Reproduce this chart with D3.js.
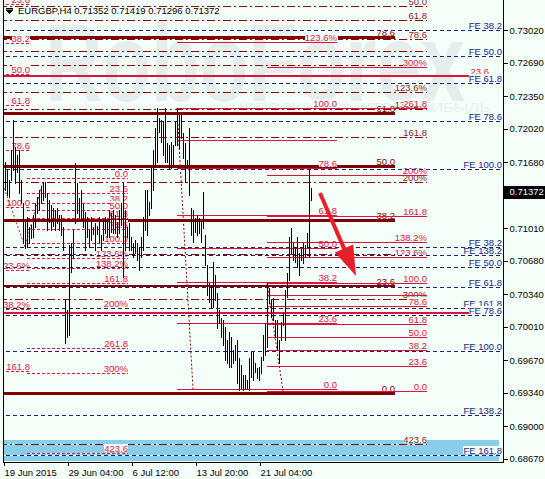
<!DOCTYPE html>
<html lang="en">
<head>
<meta charset="UTF-8">
<title>EURGBP H4</title>
<script src="https://d3js.org/d3.v7.min.js"></script>
<style>
  body { margin: 0; background: #f5fffa; }
  svg { display: block; font-family: "Liberation Sans", Arial, sans-serif; }
</style>
</head>
<body>
<svg width="545" height="479"></svg>
<script>
// ---- data ----
const symbol = "EURGBP,H4";
const lastOHLC = [0.71352, 0.71419, 0.71296, 0.71372];

// H4 bars, index 0 = first visible bar
const highs = [
  0.71699,0.71679,0.71598,0.71496,0.71801,0.72106,0.71831,0.71750,0.71801,0.71496,
  0.71262,0.71090,0.71120,0.71019,0.71039,0.71141,0.71262,0.71323,0.71395,0.71435,
  0.71476,0.71476,0.71364,0.71293,0.71242,0.71212,0.71191,0.71212,0.71141,0.71141,
  0.71019,0.70277,0.70175,0.70836,0.70856,0.70988,0.71669,0.71466,0.71313,0.71395,
  0.71262,0.71171,0.71120,0.70988,0.71120,0.71019,0.71059,0.71029,0.71120,0.70937,
  0.71090,0.71120,0.71090,0.71191,0.71161,0.71191,0.71141,0.71069,0.71191,0.71262,
  0.71466,0.71191,0.71019,0.71059,0.70917,0.70856,0.70887,0.70856,0.70816,0.70917,
  0.71120,0.71395,0.71395,0.71273,0.71618,0.71801,0.72025,0.72228,0.72126,0.72106,
  0.72086,0.72228,0.71872,0.71852,0.71882,0.71852,0.72086,0.72228,0.72157,0.72177,
  0.71974,0.71872,0.71699,0.72025,0.71212,0.71191,0.71110,0.71141,0.71110,0.71069,
  0.71374,0.70937,0.70633,0.70450,0.70429,0.70663,0.70531,0.70348,0.70175,0.70094,
  0.70074,0.70003,0.69871,0.69952,0.69901,0.69769,0.69820,0.69871,0.69688,0.69617,
  0.69515,0.69515,0.69464,0.69688,0.69749,0.69749,0.69637,0.69586,0.69596,0.69698,
  0.69921,0.70043,0.70450,0.70399,0.70277,0.70297,0.70074,0.70074,0.69871,0.70054,
  0.70145,0.70379,0.70551,0.70917,0.71008,0.70856,0.70816,0.70917,0.70755,0.70816,
  0.70856,0.70836,0.70958,0.71598,0.71419
];
const lows = [
  0.71323,0.71395,0.71344,0.71323,0.71496,0.71598,0.71466,0.71577,0.71364,0.71262,
  0.70856,0.70805,0.70816,0.70856,0.70907,0.70917,0.71019,0.71161,0.71191,0.71262,
  0.71293,0.71323,0.70988,0.71069,0.70988,0.71029,0.70988,0.71059,0.70988,0.70937,
  0.70785,0.69840,0.69901,0.69921,0.70562,0.70704,0.71059,0.71161,0.71120,0.71090,
  0.71019,0.70785,0.70917,0.70816,0.70887,0.70948,0.70785,0.70948,0.70856,0.70785,
  0.70887,0.70958,0.70917,0.70917,0.70968,0.70958,0.70958,0.70917,0.70958,0.71039,
  0.70511,0.70785,0.70917,0.70785,0.70785,0.70714,0.70755,0.70683,0.70582,0.70714,
  0.70785,0.70988,0.70937,0.71141,0.71212,0.71395,0.71628,0.71679,0.71984,0.71882,
  0.71750,0.71679,0.71679,0.71618,0.71618,0.71649,0.71852,0.71852,0.71821,0.71923,
  0.71720,0.71476,0.71618,0.71344,0.70937,0.70866,0.70968,0.70937,0.70958,0.70866,
  0.71008,0.70633,0.70328,0.70257,0.70206,0.70206,0.70277,0.69993,0.70043,0.69901,
  0.69820,0.69667,0.69637,0.69596,0.69596,0.69637,0.69667,0.69434,0.69363,0.69383,
  0.69363,0.69383,0.69383,0.69363,0.69495,0.69464,0.69546,0.69485,0.69464,0.69535,
  0.69667,0.69718,0.69800,0.70247,0.70104,0.70074,0.69901,0.69769,0.69637,0.69871,
  0.70023,0.69871,0.70308,0.70480,0.70755,0.70683,0.70663,0.70612,0.70531,0.70683,
  0.70653,0.70714,0.70816,0.70714,0.71296
];

const timeTicks = [0, 32, 64, 96, 128];
const timeLabels = ["19 Jun 2015", "29 Jun 04:00", "6 Jul 12:00", "13 Jul 20:00", "21 Jul 04:00"];
const priceTicks = [0.73020, 0.72690, 0.72350, 0.72020, 0.71680, 0.71010, 0.70680,
                    0.70340, 0.70010, 0.69670, 0.69340, 0.69000, 0.68670];

// fibonacci objects on the chart: anchor prices (0% and 100%) and bar span
const fibMaroon = { p0: 0.69335, p100: 0.73934, from: -2, to: 196,
  levels: [0, 23.6, 38.2, 50, 61.8, 78.6],
  labels: ["0.0", "23.6", "38.2", "50.0", "61.8", "78.6"] };
const fibDashDot = { p0: 0.73860, p100: 0.72669, from: -2, to: 212,
  levels: [50, 61.8, 78.6, 88.6, 100, 123.6, 138.2, 161.8, 200, 261.8, 300, 423.6],
  labels: ["50.0", "61.8", "78.6", "", "100.0", "123.6%", "138.2%", "161.8", "200%", "261.8", "300%", "423.6"] };
const fibWide = { p0: 0.70147, p100: 0.80342, from: -2, to: 243,
  levels: [0, 23.6], labels: ["0.0", "23.6"] };
const fibLeftDash = { p0: 0.71518, p100: 0.70858, from: 12, to: 62.5,
  levels: [0, 23.6, 38.2, 50, 61.8, 78.6, 100, 123.6, 138.2, 161.8, 200, 261.8, 300, 423.6],
  labels: ["0.0", "23.6", "38.2", "50.0", "61.8", "78.6", "100.0", "123.6%", "138.2%", "161.8", "200%", "261.8", "300%", "423.6"] };
const fibEdge = { p0: 0.73924, p100: 0.71223, from: -1, to: 13.5,
  levels: [23.6, 38.2, 50, 61.8, 78.6, 100, 123.6, 138.2, 161.8, 200],
  labels: ["23.6", "38.2", "50.0", "61.8", "78.6", "100.0", "123.6%", "138.2%", "161.8", "200%"] };
const fibRetr1 = { p0: 0.69376, p100: 0.72228, from: 87, to: 167,
  levels: [0, 23.6, 38.2, 50, 61.8, 78.6, 88.6, 100, 123.6],
  labels: ["0.0", "23.6", "38.2", "50.0", "61.8", "78.6", "", "100.0", "123.6%"] };
const fibRetr2 = { p0: 0.69355, p100: 0.70452, from: 132, to: 212,
  levels: [0, 23.6, 38.2, 50, 61.8, 78.6, 88.6, 100, 123.6, 138.2, 161.8, 200, 261.8, 300],
  labels: ["0.0", "23.6", "38.2", "50.0", "61.8", "78.6", "", "100.0", "123.6%", "138.2%", "161.8", "200%", "261.8", "300%"] };
const feUpper = { p0: 0.73893, p100: 0.71609, from: -2, to: 249.5,
  levels: [38.2, 50, 61.8, 78.6, 100, 138.2, 161.8],
  labels: ["FE 38.2", "FE 50.0", "FE 61.8", "FE 78.6", "FE 100.0", "FE 138.2", "FE 161.8"] };
const feLower = { p0: 0.71470, p100: 0.69761, from: -2, to: 249.5,
  levels: [38.2, 50, 61.8, 78.6, 100, 138.2, 161.8],
  labels: ["FE 38.2", "FE 50.0", "FE 61.8", "FE 78.6", "FE 100.0", "FE 138.2", "FE 161.8"] };

const trendRetr1 = [[87, 0.72228], [95, 0.69376]];
const trendRetr2 = [[132, 0.70452], [140, 0.69355]];
const trendLeft = [[0, 0.71450], [11, 0.70817], [20, 0.71477]];

const zone = { from: -2, to: 248, top: 0.68855, bottom: 0.68641 };
const arrowFrom = [158.5, 0.71365];
const arrowTo = [176.5, 0.70523];

// ---- drawing ----
const bg = "#f5fffa";
const svg = d3.select("svg");
svg.append("rect").attr("width", 545).attr("height", 479).attr("fill", bg);

svg.append("defs").append("clipPath").attr("id", "plotClip")
   .append("rect").attr("x", 3).attr("y", 0).attr("width", 500).attr("height", 462);

const x = d3.scaleLinear().domain([0, 250]).range([3, 503]);
const y = d3.scaleLinear().domain([0.68670, 0.73020]).range([458.5, 30]);

const plot = svg.append("g").attr("clip-path", "url(#plotClip)");

// watermark
plot.append("text")
    .attr("x", 45).attr("y", 101)
    .attr("font-size", 112).attr("font-weight", "bold")
    .attr("fill", "#e5eeed")
    .attr("textLength", 420).attr("lengthAdjust", "spacingAndGlyphs")
    .text("RoboForex");
plot.append("text")
    .attr("x", 232).attr("y", 112)
    .attr("font-size", 13).attr("fill", "#e8f1ef")
    .attr("textLength", 258).attr("lengthAdjust", "spacingAndGlyphs")
    .text("ИСПОЛЬЗУЙ ФАКТОР ПРИБЫЛЬ");

// rectangle zone
plot.append("rect")
    .attr("x", x(zone.from)).attr("width", x(zone.to) - x(zone.from))
    .attr("y", Math.round(y(zone.top)))
    .attr("height", Math.round(y(zone.bottom)) - Math.round(y(zone.top)))
    .attr("fill", "#87ceeb");

const snap = (v, w) => Math.round(v) + (Math.round(w) % 2 ? 0.5 : 0);

function drawFib(t, st) {
  const g = plot.append("g").attr("shape-rendering", "crispEdges");
  const x0 = x(t.from), x1 = x(t.to);
  const levelY = lv => y(t.p0 + (t.p100 - t.p0) * lv / 100);
  t.levels.forEach(lv => {
    const yy = snap(levelY(lv), st.width);
    if (st.dash) {
      g.append("line").attr("x1", x0).attr("x2", x1).attr("y1", yy).attr("y2", yy)
       .attr("stroke", bg).attr("stroke-width", st.width);
    }
    g.append("line").attr("x1", x0).attr("x2", x1).attr("y1", yy).attr("y2", yy)
     .attr("stroke", st.color).attr("stroke-width", st.width)
     .attr("stroke-dasharray", st.dash);
  });
  t.levels.forEach((lv, k) => {
    const txt = t.labels[k];
    if (!txt) return;
    const base = Math.round(levelY(lv)) - 1;
    const tx = g.append("text")
      .attr("x", x1).attr("y", base)
      .attr("text-anchor", "end")
      .attr("font-size", 9.5)
      .attr("fill", st.text)
      .text(txt);
    const bb = tx.node().getBBox();
    g.insert("rect", () => tx.node())
     .attr("x", bb.x).attr("y", bb.y + 1)
     .attr("width", bb.width).attr("height", Math.max(0, base - bb.y - 1.5))
     .attr("fill", bg);
  });
}

function drawTrend(pts, color) {
  plot.append("path")
      .datum(pts)
      .attr("d", d3.line().x(d => x(d[0])).y(d => y(d[1])))
      .attr("fill", "none")
      .attr("stroke", color)
      .attr("stroke-width", 1)
      .attr("stroke-dasharray", "2,2");
}

drawFib(fibMaroon,   { color: "#800000", width: 3, dash: null, text: "#800000" });
drawFib(fibDashDot,  { color: "#8b0000", width: 1, dash: "8,3,2,3", text: "#8b1a1a" });
drawFib(fibWide,     { color: "#dc143c", width: 2, dash: null, text: "#dc143c" });
drawFib(fibLeftDash, { color: "#dc143c", width: 1, dash: "3,2", text: "#dc143c" });
drawFib(fibEdge,     { color: "#dc143c", width: 1, dash: "3,2", text: "#dc143c" });
drawTrend(trendLeft, "#b22234");
drawFib(fibRetr1,    { color: "#dc143c", width: 1, dash: null, text: "#dc143c" });
drawTrend(trendRetr1, "#8b0000");
drawFib(fibRetr2,    { color: "#dc143c", width: 1, dash: null, text: "#dc143c" });
drawTrend(trendRetr2, "#8b0000");
drawFib(feUpper,     { color: "#1c1c80", width: 1, dash: "4,3", text: "#1c1c80" });
drawFib(feLower,     { color: "#1c1c80", width: 1, dash: "4,3", text: "#1c1c80" });

// price bars (high-low)
plot.append("g")
    .attr("shape-rendering", "crispEdges")
    .selectAll("line")
    .data(highs)
    .join("line")
    .attr("x1", (d, i) => Math.round(x(i)) + 0.5)
    .attr("x2", (d, i) => Math.round(x(i)) + 0.5)
    .attr("y1", d => Math.round(y(d)))
    .attr("y2", (d, i) => Math.round(y(lows[i])) + 1)
    .attr("stroke", "#000")
    .attr("stroke-width", 1);

// forecast arrow
{
  const ax0 = x(arrowFrom[0]), ay0 = y(arrowFrom[1]);
  const ax1 = x(arrowTo[0]), ay1 = y(arrowTo[1]);
  const len = Math.hypot(ax1 - ax0, ay1 - ay0);
  const ux = (ax1 - ax0) / len, uy = (ay1 - ay0) / len;
  const headL = 30, headW = 10;
  const bx = ax1 - ux * headL, by = ay1 - uy * headL;
  plot.append("line")
      .attr("x1", ax0).attr("y1", ay0)
      .attr("x2", bx + ux * 4).attr("y2", by + uy * 4)
      .attr("stroke", "#e8202a").attr("stroke-width", 4);
  plot.append("path")
      .attr("d", `M${ax1},${ay1}L${bx - uy * headW},${by + ux * headW}L${bx + uy * headW},${by - ux * headW}Z`)
      .attr("fill", "#e8202a");
}

// frame
const frame = svg.append("g").attr("shape-rendering", "crispEdges").attr("stroke", "#000");
frame.append("line").attr("x1", 3.5).attr("x2", 3.5).attr("y1", 0).attr("y2", 462);
frame.append("line").attr("x1", 503.5).attr("x2", 503.5).attr("y1", 0).attr("y2", 462);
frame.append("line").attr("x1", 3).attr("x2", 504).attr("y1", 462.5).attr("y2", 462.5);

// price axis
const yAxis = svg.append("g")
    .attr("transform", "translate(503.5,0)")
    .call(d3.axisRight(y).tickValues(priceTicks).tickSize(4).tickSizeOuter(0)
          .tickFormat(d3.format(".5f")));
yAxis.select(".domain").remove();
yAxis.selectAll("text").attr("font-family", "Liberation Sans, Arial, sans-serif")
     .attr("font-size", 9.5).attr("fill", "#000").attr("x", 6);
yAxis.selectAll("line").attr("shape-rendering", "crispEdges");

// current price box
{
  const py = Math.round(y(lastOHLC[3]));
  svg.append("rect").attr("x", 504).attr("y", py - 6).attr("width", 41).attr("height", 13).attr("fill", "#000");
  svg.append("text").attr("x", 509.5).attr("y", py).attr("dy", "0.34em")
     .attr("font-size", 9.5).attr("fill", "#fff").text(lastOHLC[3].toFixed(5));
}

// time axis
const xAxis = svg.append("g")
    .attr("transform", "translate(0.5,462)")
    .call(d3.axisBottom(x).tickValues(timeTicks).tickSize(4).tickSizeOuter(0)
          .tickFormat((d, i) => timeLabels[i]));
xAxis.select(".domain").remove();
xAxis.selectAll("text").attr("text-anchor", "start").attr("x", 0.5)
     .attr("font-family", "Liberation Sans, Arial, sans-serif")
     .attr("font-size", 9.5).attr("fill", "#000");
xAxis.selectAll("line").attr("shape-rendering", "crispEdges");

// header
svg.append("path").attr("d", "M6,8.5H13M6,10L13,10L9.5,13.5Z")
   .attr("stroke", "#000").attr("fill", "#000").attr("stroke-width", 1);
svg.append("text").attr("x", 18).attr("y", 14).attr("font-size", 9.5).attr("fill", "#000")
   .text(symbol + "  " + lastOHLC.map(v => v.toFixed(5)).join(" "));
</script>
</body>
</html>
